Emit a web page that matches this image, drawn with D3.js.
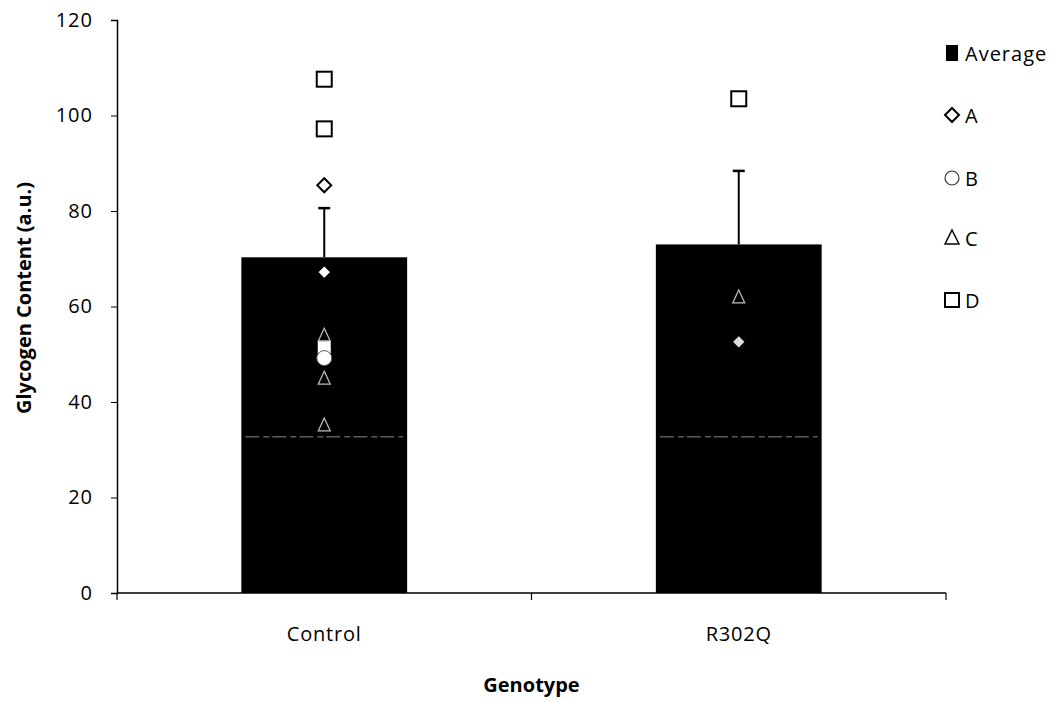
<!DOCTYPE html>
<html><head><meta charset="utf-8">
<script src="https://cdn.jsdelivr.net/npm/d3@7"></script>
<style>body{margin:0;background:#fff}svg{display:block;font-family:"Open Sans",Lato,sans-serif}</style>
</head><body><svg id="c" width="1062" height="702"></svg>
<script>
const categories = ["Control", "R302Q"];
const averages = [70.3, 73.0];
const errorUpper = [80.6, 88.4];
const seriesA = [[85.4, 67.2], [52.6]];
const seriesB = [[49.2], []];
const seriesC = [[54.0, 45.0, 35.2], [62.0]];
const seriesD = [[107.6, 97.2, 51.5], [103.5]];
const baseLine = [32.7, 32.7];
const yTicks = [0, 20, 40, 60, 80, 100, 120];
const legendLabels = ["Average", "A", "B", "C", "D"];

const FONT = "'Open Sans', Lato, sans-serif";
const svg = d3.select("#c");
const m = {l: 117, r: 946, t: 20, b: 593};
const x = d3.scaleBand().domain(categories).range([m.l, m.r]).paddingInner(0.6).paddingOuter(0.3);
const xOuter = d3.scaleBand().domain(categories).range([m.l, m.r]);
const y = d3.scaleLinear().domain([0, 120]).range([m.b, m.t]);

// bars
svg.append("g").selectAll("rect").data(categories).join("rect")
  .attr("x", d => x(d)).attr("width", x.bandwidth())
  .attr("y", (d, i) => y(averages[i])).attr("height", (d, i) => y(0) - y(averages[i]))
  .attr("fill", "#000");

// faint dashed line inside bars
svg.append("g").selectAll("line").data(categories).join("line")
  .attr("x1", d => x(d) + 4).attr("x2", d => x(d) + x.bandwidth() - 4)
  .attr("y1", (d, i) => y(baseLine[i])).attr("y2", (d, i) => y(baseLine[i]))
  .attr("stroke", "#8a8a8a").attr("stroke-width", 1).attr("stroke-dasharray", "14 4 6 3");

// error bars
const eg = svg.append("g");
categories.forEach((c, i) => {
  const cx = x(c) + x.bandwidth() / 2;
  eg.append("line").attr("x1", cx).attr("x2", cx).attr("y1", y(averages[i])).attr("y2", y(errorUpper[i]))
    .attr("stroke", "#000").attr("stroke-width", 2);
  eg.append("line").attr("x1", cx - 6).attr("x2", cx + 6).attr("y1", y(errorUpper[i])).attr("y2", y(errorUpper[i]))
    .attr("stroke", "#000").attr("stroke-width", 2.5);
});

// markers
const mg = svg.append("g");
function pts(series) {
  const out = [];
  series.forEach((arr, i) => arr.forEach(v => out.push({c: categories[i], v})));
  return out;
}
const cxOf = d => x(d.c) + x.bandwidth() / 2;
mg.selectAll(".d").data(pts(seriesD)).join("rect").attr("class", "d")
  .attr("x", d => cxOf(d) - 7.5).attr("y", d => y(d.v) - 7.5).attr("width", 15).attr("height", 15)
  .attr("fill", "#fff").attr("stroke", "#000").attr("stroke-width", 2);
mg.selectAll(".t").data(pts(seriesC)).join("path").attr("class", "t")
  .attr("d", d => { const cx = cxOf(d), cy = y(d.v); return `M${cx},${cy-7}L${cx+6},${cy+6}L${cx-6},${cy+6}Z`; })
  .attr("fill", "none").attr("stroke", "#bdbdbd").attr("stroke-width", 1.2);
mg.selectAll(".b").data(pts(seriesB)).join("circle").attr("class", "b")
  .attr("cx", cxOf).attr("cy", d => y(d.v)).attr("r", 7.5)
  .attr("fill", "#fff").attr("stroke", "#555").attr("stroke-width", 1);
mg.selectAll(".a").data(pts(seriesA)).join("path").attr("class", "a")
  .attr("d", d => { const cx = cxOf(d), cy = y(d.v); return `M${cx},${cy-7}L${cx+7},${cy}L${cx},${cy+7}L${cx-7},${cy}Z`; })
  .attr("fill", d => d.c === "R302Q" ? "#ddd" : "#fff").attr("stroke", "#000").attr("stroke-width", 2);

// axes
const ya = svg.append("g").attr("transform", `translate(${m.l},0)`)
  .call(d3.axisLeft(y).tickValues(yTicks).tickSize(6).tickPadding(18).tickFormat(d3.format("d")));
ya.select(".domain").attr("stroke", "#000").attr("stroke-width", 1.5);
ya.selectAll(".tick line").attr("stroke", "#000");
ya.selectAll("text").attr("font-size", 20).attr("fill", "#000").attr("font-family", FONT).attr("letter-spacing", 1);

const xa = svg.append("g").attr("transform", `translate(0,${m.b})`);
xa.append("line").attr("x1", m.l).attr("x2", m.r).attr("y1", 0).attr("y2", 0).attr("stroke", "#000").attr("stroke-width", 1.5);
const xt = [m.l, ...categories.slice(1).map(c => xOuter(c)), m.r];
xa.selectAll(".xt").data(xt).join("line").attr("x1", d => d).attr("x2", d => d).attr("y1", 0).attr("y2", 7)
  .attr("stroke", "#000").attr("stroke-width", 1.2);
xa.selectAll(".xl").data(categories).join("text")
  .attr("x", d => x(d) + x.bandwidth() / 2).attr("y", 48).attr("text-anchor", "middle")
  .attr("font-size", 20).attr("letter-spacing", 0.8).text(d => d);

svg.append("text").attr("x", (m.l + m.r) / 2).attr("y", 692).attr("text-anchor", "middle")
  .attr("font-size", 20).attr("font-weight", "bold").text("Genotype");
svg.append("text").attr("transform", `translate(31,298) rotate(-90)`).attr("text-anchor", "middle")
  .attr("font-size", 20).attr("font-weight", "bold").text("Glycogen Content (a.u.)");

// legend
const lg = svg.append("g");
const ly = [53, 115, 178, 238, 300];
const lx = 952;
lg.append("rect").attr("x", lx - 6).attr("y", ly[0] - 8).attr("width", 12).attr("height", 16).attr("fill", "#000");
lg.append("path").attr("d", `M${lx},${ly[1]-7}L${lx+7},${ly[1]}L${lx},${ly[1]+7}L${lx-7},${ly[1]}Z`)
  .attr("fill", "#fff").attr("stroke", "#000").attr("stroke-width", 2);
lg.append("circle").attr("cx", lx).attr("cy", ly[2]).attr("r", 7).attr("fill", "#fff").attr("stroke", "#333").attr("stroke-width", 1.2);
lg.append("path").attr("d", `M${lx},${ly[3]-8}L${lx+7},${ly[3]+6}L${lx-7},${ly[3]+6}Z`)
  .attr("fill", "#fff").attr("stroke", "#000").attr("stroke-width", 1.5);
lg.append("rect").attr("x", lx - 7).attr("y", ly[4] - 7).attr("width", 14).attr("height", 14)
  .attr("fill", "#fff").attr("stroke", "#000").attr("stroke-width", 2);
lg.selectAll(".lt").data(legendLabels).join("text")
  .attr("x", lx + 13).attr("y", (d, i) => ly[i] + 8).attr("font-size", 20).attr("letter-spacing", 1).text(d => d);
</script></body></html>
